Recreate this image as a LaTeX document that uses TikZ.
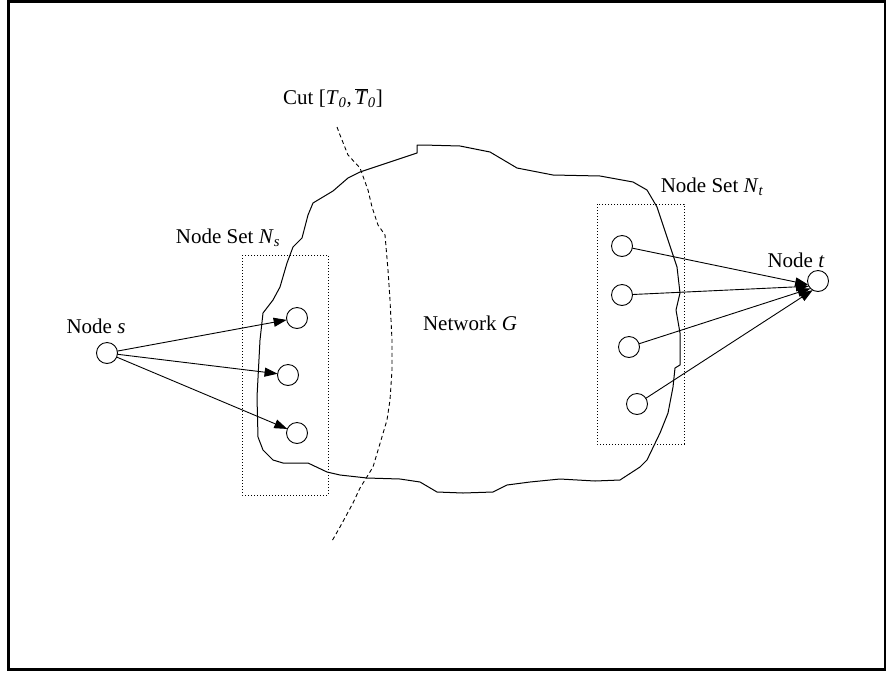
\documentclass[tikz,border=0pt]{standalone}
\usepackage{fontspec}
\setmainfont{Liberation Serif}
\usetikzlibrary{arrows.meta}
\newcommand{\mysb}[1]{\textsubscript{\itshape #1}}
\begin{document}
\begin{tikzpicture}[x=1pt,y=-1pt,
  every node/.style={font=\fontsize{21}{25}\selectfont},
  vert/.style={circle,draw,line width=0.9pt,minimum size=21pt,inner sep=0pt,outer sep=0pt},
  lbl/.style={anchor=base,inner sep=0pt},
  arr/.style={line width=0.9pt,-{Triangle[length=13pt,width=9pt]}},
  setbox/.style={draw,line width=1pt,dotted},
  blob/.style={draw,line width=1pt,line join=round},
  cutline/.style={draw,line width=0.9pt,dash pattern=on 4pt off 3pt}]
\useasboundingbox (0,0) rectangle (888,675);
\draw[line width=2.2pt] (8.5,1.5) rectangle (885,669.5);
% network G
\draw[blob] (258,437) -- (257,397) -- (260,340) -- (263,313) -- (273,300) -- (280,287) -- (287,263) -- (293,247) -- (302,238) -- (308,215) -- (313,203) -- (333,191) -- (348,178) -- (360,172) -- (417,153) -- (417,145) -- (423,145) -- (460,146) -- (490,152) -- (517,168) -- (553,175) -- (600,176) -- (633,182) -- (647,190) -- (657,207) -- (667,237) -- (677,267) -- (680,293) -- (676,310) -- (680,333) -- (680,365) -- (675,368) -- (673,387) -- (668,413) -- (660,433) -- (647,460) -- (640,467) -- (620,480) -- (595,481) -- (560,479) -- (530,482) -- (507,485) -- (493,492) -- (463,493) -- (437,492) -- (420,482) -- (400,479) -- (367,478) -- (340,475) -- (327,472) -- (308,463) -- (283,463) -- (273,460) -- (263,450) -- cycle;
% cut
\draw[cutline] (337,127) -- (340,135) -- (348,155) -- (360,168) -- (368,190) -- (372,207) -- (378,225) -- (385,235) -- (388,270) -- (390,300) -- (392,340) -- (392,370) -- (390,400) -- (387,420) -- (373,467) -- (360,488) -- (353,503) -- (340,527) -- (332,541);
% boxes
\draw[setbox] (242,255) rectangle (328,495);
\draw[setbox] (597,204) rectangle (684,444);
% vertices
\node[vert] (s) at (107,353) {};
\node[vert] (a1) at (297,318) {};
\node[vert] (a2) at (288,375) {};
\node[vert] (a3) at (297,433) {};
\node[vert] (b1) at (622,246) {};
\node[vert] (b2) at (622,295) {};
\node[vert] (b3) at (629,347) {};
\node[vert] (b4) at (637,404) {};
\node[vert] (t) at (818,281) {};
% arrows
\draw[arr] (s) -- (a1);
\draw[arr] (s) -- (a2);
\draw[arr] (s) -- (a3);
\draw[arr] (b1) -- (t.200);
\draw[arr] (b2) -- (t.210);
\draw[arr] (b3) -- (t.225);
\draw[arr] (b4) -- (t.240);
% labels
\node[lbl] (ls) at (96,333) {Node \textit{s}};
\node[lbl] (lt) at (796,267) {Node \textit{t}};
\node[lbl] (lns) at (228,243) {Node Set \textit{N}\mysb{s}};
\node[lbl] (lnt) at (712,192) {Node Set \textit{N}\mysb{t}};
\node[lbl] (lg) at (470,330) {Network \textit{G}};
\node[lbl] (lcut) at (333,104) {Cut [\textit{T}\mysb{0},\,$\overline{\hbox{\itshape T\kern1pt}}$\mysb{0}]};
\end{tikzpicture}
\end{document}
